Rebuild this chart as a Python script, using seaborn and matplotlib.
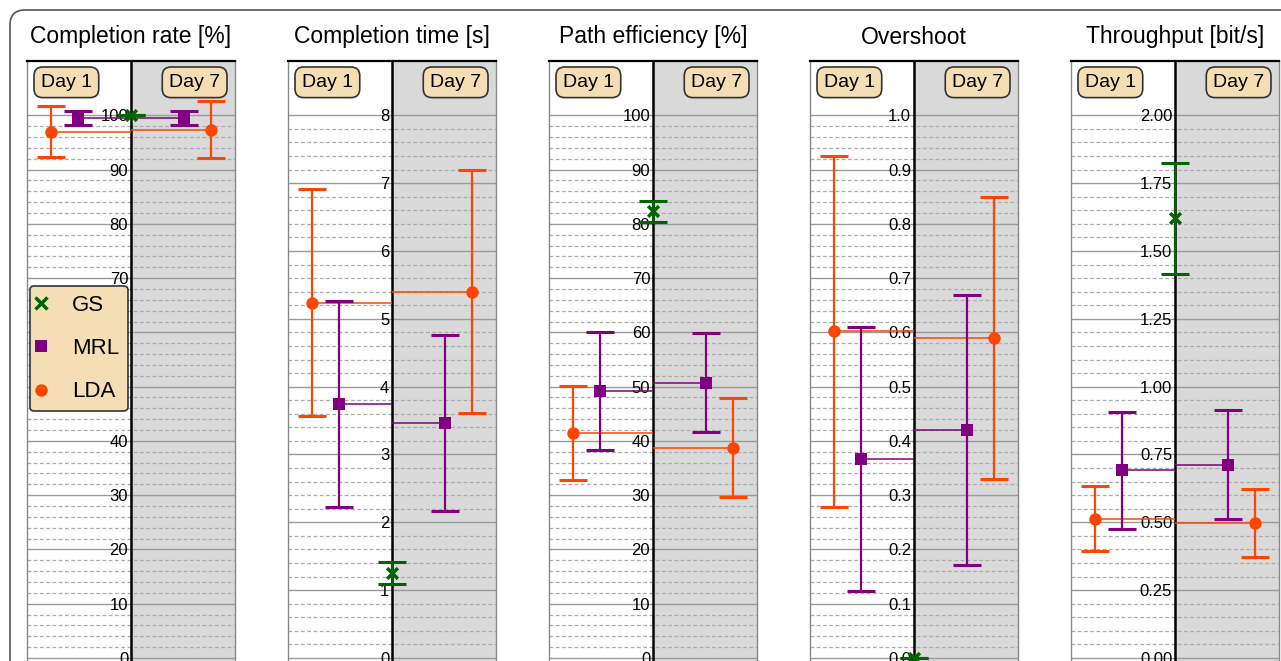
import matplotlib
matplotlib.use("Agg")
import numpy as np
import pandas as pd
import matplotlib.pyplot as plt
import seaborn as sns
from matplotlib.ticker import FixedLocator, FormatStrFormatter
from matplotlib.patches import FancyBboxPatch
from matplotlib.lines import Line2D

# ---------------- data ----------------
metrics = ["Completion rate [%]", "Completion time [s]", "Path efficiency [%]",
           "Overshoot", "Throughput [bit/s]"]
y_max = [100, 8, 100, 1.0, 2.0]
tick_step = [10, 1, 10, 0.1, 0.25]
tick_fmt = ["%d", "%d", "%d", "%.1f", "%.2f"]

methods = ["GS", "MRL", "LDA"]
days = ["Day 1", "Day 7"]

gs_day1_mean = [100.0, 1.25, 82.3, 0.0, 1.62]
gs_day1_err = [0.0, 0.165, 1.97, 0.0, 0.205]

mrl_day1_mean = [99.45, 3.745, 49.2, 0.366, 0.692]
mrl_day1_err = [1.3, 1.515, 10.9, 0.243, 0.216]
mrl_day7_mean = [99.45, 3.467, 50.75, 0.42, 0.712]
mrl_day7_err = [1.3, 1.293, 9.1, 0.248, 0.201]

lda_day1_mean = [96.96, 5.24, 41.47, 0.602, 0.513]
lda_day1_err = [4.7, 1.67, 8.6, 0.323, 0.12]
lda_day7_mean = [97.35, 5.40, 38.76, 0.590, 0.498]
lda_day7_err = [5.25, 1.79, 9.1, 0.26, 0.125]

rows = []
for i, m in enumerate(metrics):
    rows.append((m, "GS", "Day 1", gs_day1_mean[i], gs_day1_err[i]))
    rows.append((m, "MRL", "Day 1", mrl_day1_mean[i], mrl_day1_err[i]))
    rows.append((m, "MRL", "Day 7", mrl_day7_mean[i], mrl_day7_err[i]))
    rows.append((m, "LDA", "Day 1", lda_day1_mean[i], lda_day1_err[i]))
    rows.append((m, "LDA", "Day 7", lda_day7_mean[i], lda_day7_err[i]))
df = pd.DataFrame(rows, columns=["metric", "method", "day", "mean", "err"])

# ---------------- style ----------------
colors = {"GS": "#006400", "MRL": "#800080", "LDA": "#ff4500"}
markers = {"GS": "x", "MRL": "s", "LDA": "o"}
sizes = {"GS": 60, "MRL": 64, "LDA": 80}
offsets = {"GS": 0.0, "MRL": 0.51, "LDA": 0.77}
day_sign = {"Day 1": -1, "Day 7": 1}
df["x"] = [day_sign[d] * offsets[m] for d, m in zip(df["day"], df["method"])]

sns.set_theme(style="white")
plt.rcParams["font.family"] = ["Liberation Sans", "DejaVu Sans"]
plt.rcParams["text.color"] = "black"
plt.rcParams["ytick.color"] = "black"

W, H = 1281, 661
fig = plt.figure(figsize=(W / 100, H / 100), dpi=100)

wheat = "#f5deb3"
for i, title in enumerate(metrics):
    left_px = 27 + 261 * i
    ax = fig.add_axes([left_px / W, 0, 208 / W, (H - 61) / H])
    top = y_max[i] * 1.1
    bottom = top - top * 600 / 597
    ax.set_xlim(-1, 1)
    ax.set_ylim(bottom, top)
    ax.axvspan(0, 1, color="#d9d9d9", zorder=0.2, lw=0)

    step = tick_step[i]
    n_major = int(round(y_max[i] / step))
    ax.yaxis.set_major_locator(FixedLocator(np.linspace(0, y_max[i], n_major + 1)))
    minor = [v for v in np.linspace(0, y_max[i], 5 * n_major + 1)]
    ax.yaxis.set_minor_locator(FixedLocator(minor))
    ax.yaxis.set_major_formatter(FormatStrFormatter(tick_fmt[i]))
    ax.set_axisbelow("line")
    ax.grid(which="major", axis="y", color="#9a9a9a", lw=1.0, ls="-")
    ax.grid(which="minor", axis="y", color="#ababab", lw=0.9, ls=(0, (3, 2)))
    ax.set_xticks([])
    ax.tick_params(axis="y", which="both", length=0, pad=2, labelsize=12)

    for s in ["left", "right", "top", "bottom"]:
        ax.spines[s].set_visible(True)
    ax.spines["left"].set_position(("data", 0))
    ax.spines["left"].set_color("black")
    ax.spines["left"].set_linewidth(1.8)
    ax.spines["left"].set_zorder(2.6)
    ax.spines["top"].set_color("black")
    ax.spines["top"].set_linewidth(1.6)
    ax.spines["right"].set_color("#888888")
    ax.spines["right"].set_linewidth(1.0)
    ax.spines["bottom"].set_visible(False)
    ax.axvline(-1, color="#888888", lw=1.0, clip_on=False, zorder=2)

    sub = df[df["metric"] == title]
    for m in methods:
        sm = sub[sub["method"] == m]
        ax.hlines(sm["mean"], sm["x"], 0, color=colors[m], lw=1.1, zorder=2.8)
        ax.errorbar(sm["x"], sm["mean"], yerr=sm["err"], fmt="none",
                    ecolor=colors[m], elinewidth=1.6, capsize=10, capthick=2.2,
                    zorder=3)
        if markers[m] == "x":
            sns.scatterplot(data=sm, x="x", y="mean", marker="x", color=colors[m],
                            s=sizes[m], linewidth=2.5, ax=ax, legend=False, zorder=4)
        else:
            sns.scatterplot(data=sm, x="x", y="mean", marker=markers[m],
                            color=colors[m], edgecolor=colors[m], linewidth=0,
                            s=sizes[m], ax=ax, legend=False, zorder=4)
    ax.set_xlabel("")
    ax.set_ylabel("")

    fs_day = 14
    bpad = 0.35 * fs_day * 100 / 72
    box = dict(boxstyle="round,pad=0.35,rounding_size=0.45", fc=wheat, ec="#333333", lw=1.2)
    ax.annotate("Day 1", xy=(0, 1), xycoords="axes fraction",
                xytext=(7 + bpad, -6 - bpad), textcoords="offset pixels",
                ha="left", va="top", fontsize=fs_day, bbox=box, zorder=6)
    ax.annotate("Day 7", xy=(1, 1), xycoords="axes fraction",
                xytext=(-8 - bpad, -6 - bpad), textcoords="offset pixels",
                ha="right", va="top", fontsize=fs_day, bbox=box, zorder=6)

    fig.text((left_px + 104) / W, 1 - 37 / H, title, ha="center", va="center",
             fontsize=16.5)

    if i == 0:
        handles = [Line2D([], [], ls="none", marker=markers[m], color=colors[m],
                          markersize=(8 if m != "LDA" else 9),
                          markeredgewidth=(2.5 if m == "GS" else 0))
                   for m in methods]
        leg = ax.legend(handles, methods, loc="upper left",
                        bbox_to_anchor=(3 / 208, (661 - 286) / 600),
                        fontsize=16, frameon=True, facecolor=wheat,
                        edgecolor="#333333", framealpha=1, fancybox=True,
                        borderpad=0.4, handlelength=0.2, handletextpad=1.28,
                        labelspacing=1.0, borderaxespad=0)
        leg.get_frame().set_linewidth(1.2)
        leg.set_zorder(7)

border = FancyBboxPatch((0.10, -1.0), 14.0, 7.51,
                        boxstyle="round,pad=0,rounding_size=0.15",
                        transform=fig.dpi_scale_trans, fc="none", ec="#555555", lw=1.2)
fig.patches.append(border)

fig.savefig("out.png", dpi=100)
